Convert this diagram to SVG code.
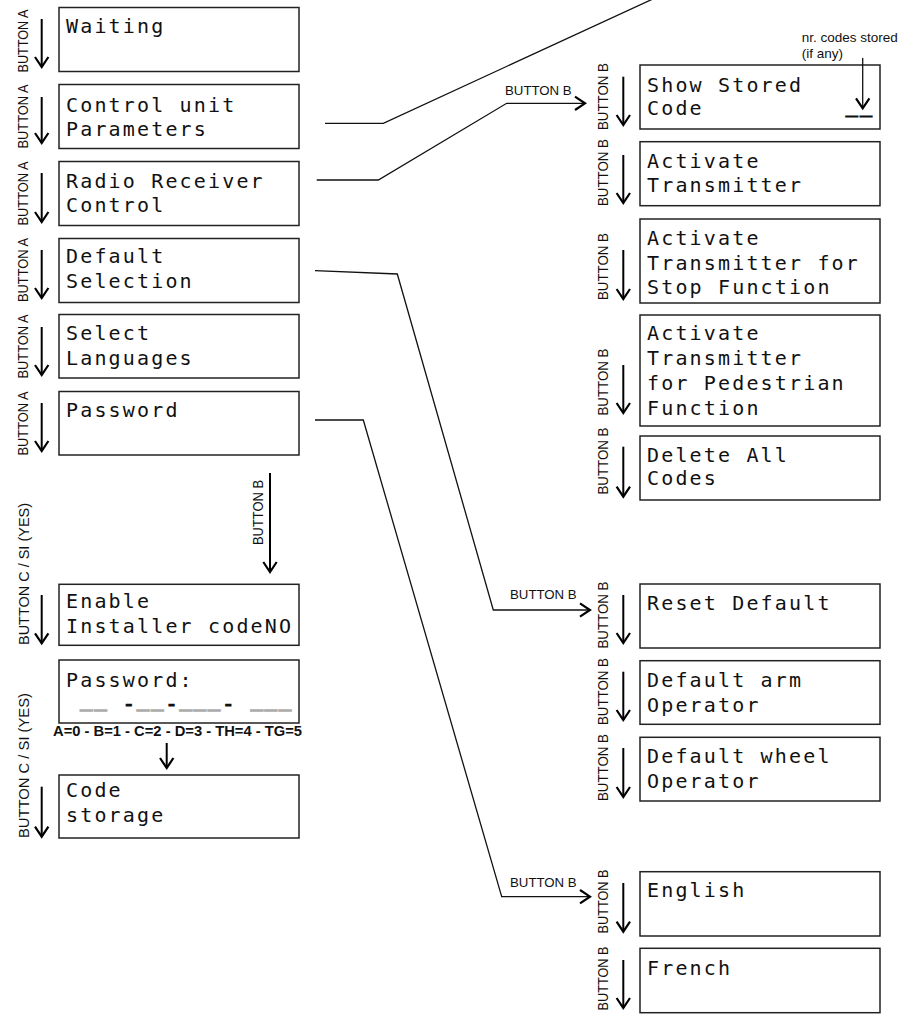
<svg xmlns="http://www.w3.org/2000/svg" width="903" height="1014" viewBox="0 0 903 1014">
<style>
.box{fill:#fff;stroke:#222;stroke-width:1.5}
.lcd{font-family:"DejaVu Sans Mono","Liberation Mono",monospace;font-size:20px;letter-spacing:2.16px;fill:#111}
.lbl{font-family:"Liberation Sans",Arial,sans-serif;font-size:15.5px;fill:#111}
.hl{font-family:"Liberation Sans",Arial,sans-serif;font-size:13px;fill:#111}
.arr{stroke:#000;stroke-width:2;fill:none}
.conn{stroke:#111;stroke-width:1.3;fill:none}
.gray{fill:#aaa;stroke:#aaa;stroke-width:1.6}
.blk{fill:#111;stroke:#111;stroke-width:1.2}
</style>
<defs>
<marker id="chev" markerUnits="userSpaceOnUse" viewBox="-14 -10 20 20" markerWidth="20" markerHeight="20" refX="0" refY="0" orient="auto" overflow="visible">
<path d="M-10,-6.7 L0,0 L-10,6.7" fill="none" stroke="#000" stroke-width="2.2"/>
</marker>
</defs>

<g id="connectors">
<path class="conn" d="M325,123.3 H383.3 L655,-2"/>
<path class="conn" d="M316.7,180 H378.3 L506.7,103.3 H585" marker-end="url(#chev)"/>
<path class="conn" d="M315,270.7 L397.3,274 L493.3,610 H590" marker-end="url(#chev)"/>
<path class="conn" d="M315,420 H363.3 L501.7,896.7 H590" marker-end="url(#chev)"/>
<path class="arr" d="M270,473 V572" marker-end="url(#chev)"/>
<path class="arr" d="M166.7,743 V768" marker-end="url(#chev)"/>
<!-- left arrows -->
<path class="arr" d="M41.7,19 V67" marker-end="url(#chev)"/>
<path class="arr" d="M41.7,97 V143" marker-end="url(#chev)"/>
<path class="arr" d="M41.7,173 V222" marker-end="url(#chev)"/>
<path class="arr" d="M41.7,250 V298" marker-end="url(#chev)"/>
<path class="arr" d="M41.7,327 V375" marker-end="url(#chev)"/>
<path class="arr" d="M41.7,403 V451" marker-end="url(#chev)"/>
<path class="arr" d="M41.7,595 V643.3" marker-end="url(#chev)"/>
<path class="arr" d="M41.7,786.7 V836.7" marker-end="url(#chev)"/>
<!-- right arrows -->
<path class="arr" d="M623.3,76.7 V125" marker-end="url(#chev)"/>
<path class="arr" d="M623.3,155 V203" marker-end="url(#chev)"/>
<path class="arr" d="M623.3,250 V299" marker-end="url(#chev)"/>
<path class="arr" d="M623.3,365 V413" marker-end="url(#chev)"/>
<path class="arr" d="M623.3,446.7 V496.7" marker-end="url(#chev)"/>
<path class="arr" d="M623.3,595 V643" marker-end="url(#chev)"/>
<path class="arr" d="M623.3,671.7 V720" marker-end="url(#chev)"/>
<path class="arr" d="M623.3,748 V797" marker-end="url(#chev)"/>
<path class="arr" d="M623.3,883 V931.7" marker-end="url(#chev)"/>
<path class="arr" d="M623.3,960 V1008" marker-end="url(#chev)"/>
<!-- connector labels -->
<text class="hl" x="505" y="95" textLength="66.7" lengthAdjust="spacingAndGlyphs">BUTTON B</text>
<text class="hl" x="510" y="599.3" textLength="66.7" lengthAdjust="spacingAndGlyphs">BUTTON B</text>
<text class="hl" x="510" y="886.7" textLength="66.7" lengthAdjust="spacingAndGlyphs">BUTTON B</text>
<!-- rotated labels left -->
<g class="lbl" text-anchor="middle">
<text textLength="63" lengthAdjust="spacingAndGlyphs" transform="translate(27.5,41) rotate(-90)">BUTTON A</text>
<text textLength="64" lengthAdjust="spacingAndGlyphs" transform="translate(27.5,116.5) rotate(-90)">BUTTON A</text>
<text textLength="64" lengthAdjust="spacingAndGlyphs" transform="translate(27.5,193.5) rotate(-90)">BUTTON A</text>
<text textLength="64" lengthAdjust="spacingAndGlyphs" transform="translate(27.5,270) rotate(-90)">BUTTON A</text>
<text textLength="64" lengthAdjust="spacingAndGlyphs" transform="translate(27.5,346.5) rotate(-90)">BUTTON A</text>
<text textLength="64" lengthAdjust="spacingAndGlyphs" transform="translate(27.5,423.5) rotate(-90)">BUTTON A</text>
<text textLength="65" lengthAdjust="spacingAndGlyphs" transform="translate(262.5,512.5) rotate(-90)">BUTTON B</text>
<text textLength="142" lengthAdjust="spacingAndGlyphs" transform="translate(29,574) rotate(-90)">BUTTON C / SI (YES)</text>
<text textLength="145" lengthAdjust="spacingAndGlyphs" transform="translate(29,765.5) rotate(-90)">BUTTON C / SI (YES)</text>
<!-- rotated labels right -->
<text textLength="67" lengthAdjust="spacingAndGlyphs" transform="translate(607.5,96.5) rotate(-90)">BUTTON B</text>
<text textLength="67" lengthAdjust="spacingAndGlyphs" transform="translate(607.5,172.5) rotate(-90)">BUTTON B</text>
<text textLength="67" lengthAdjust="spacingAndGlyphs" transform="translate(607.5,266.5) rotate(-90)">BUTTON B</text>
<text textLength="67" lengthAdjust="spacingAndGlyphs" transform="translate(607.5,382) rotate(-90)">BUTTON B</text>
<text textLength="67" lengthAdjust="spacingAndGlyphs" transform="translate(607.5,461) rotate(-90)">BUTTON B</text>
<text textLength="67" lengthAdjust="spacingAndGlyphs" transform="translate(607.5,615) rotate(-90)">BUTTON B</text>
<text textLength="67" lengthAdjust="spacingAndGlyphs" transform="translate(607.5,691.5) rotate(-90)">BUTTON B</text>
<text textLength="67" lengthAdjust="spacingAndGlyphs" transform="translate(607.5,767.5) rotate(-90)">BUTTON B</text>
<text textLength="64" lengthAdjust="spacingAndGlyphs" transform="translate(607.5,901.5) rotate(-90)">BUTTON B</text>
<text textLength="64" lengthAdjust="spacingAndGlyphs" transform="translate(607.5,978.5) rotate(-90)">BUTTON B</text>
</g>
<text class="hl" style="font-weight:bold;font-size:14px" x="53" y="736" textLength="249" lengthAdjust="spacingAndGlyphs">A=0 - B=1 - C=2 - D=3 - TH=4 - TG=5</text>
</g>

<g id="waiting"><rect class="box" x="59" y="7.5" width="240" height="64"/><text class="lcd" x="66" y="33.3">Waiting</text></g>
<g id="control-unit"><rect class="box" x="59" y="84.5" width="240" height="64"/><text class="lcd" x="66" y="111.5">Control unit<tspan x="66" y="135.5">Parameters</tspan></text></g>
<g id="radio-receiver"><rect class="box" x="59" y="161.5" width="240" height="64"/><text class="lcd" x="66" y="188.3">Radio Receiver<tspan x="66" y="211.7">Control</tspan></text></g>
<g id="default-selection"><rect class="box" x="59" y="238.5" width="240" height="64"/><text class="lcd" x="66" y="263.3">Default<tspan x="66" y="288.3">Selection</tspan></text></g>
<g id="select-languages"><rect class="box" x="59" y="314.5" width="240" height="63.5"/><text class="lcd" x="66" y="340">Select<tspan x="66" y="365">Languages</tspan></text></g>
<g id="password"><rect class="box" x="59" y="391.5" width="240" height="63.5"/><text class="lcd" x="66" y="416.7">Password</text></g>
<g id="enable-installer"><rect class="box" x="59" y="584.3" width="240" height="61"/><text class="lcd" x="66" y="608">Enable<tspan x="66" y="633">Installer codeNO</tspan></text></g>
<g id="password-entry"><rect class="box" x="59" y="660" width="240" height="63"/>
<text class="lcd" x="66" y="687" xml:space="preserve">Password:<tspan class="gray" x="66" y="706"> __ </tspan><tspan class="blk" dy="5">-</tspan><tspan class="gray" dy="-5">__</tspan><tspan class="blk" dy="5">-</tspan><tspan class="gray" dy="-5">___</tspan><tspan class="blk" dy="5">-</tspan><tspan class="gray" dy="-5"> ___</tspan></text></g>
<g id="code-storage"><rect class="box" x="59" y="775" width="240" height="63"/><text class="lcd" x="66" y="797">Code<tspan x="66" y="821.5">storage</tspan></text></g>

<g id="show-stored-code"><rect class="box" x="640" y="65" width="240" height="64"/><text class="lcd" x="647" y="91.7">Show Stored<tspan x="647" y="115">Code</tspan><tspan class="blk" x="845.8" y="111.5">__</tspan></text></g>
<g id="activate-transmitter"><rect class="box" x="640" y="141.7" width="240" height="64"/><text class="lcd" x="647" y="168.3">Activate<tspan x="647" y="191.7">Transmitter</tspan></text></g>
<g id="activate-stop"><rect class="box" x="640" y="219" width="240" height="84"/><text class="lcd" x="647" y="245">Activate<tspan x="647" y="270">Transmitter for</tspan><tspan x="647" y="293.5">Stop Function</tspan></text></g>
<g id="activate-pedestrian"><rect class="box" x="640" y="315" width="240" height="111"/><text class="lcd" x="647" y="340">Activate<tspan x="647" y="365">Transmitter</tspan><tspan x="647" y="390">for Pedestrian</tspan><tspan x="647" y="415">Function</tspan></text></g>
<g id="delete-all"><rect class="box" x="640" y="436" width="240" height="64"/><text class="lcd" x="647" y="461.7">Delete All<tspan x="647" y="485">Codes</tspan></text></g>
<g id="reset-default"><rect class="box" x="640" y="584" width="240" height="64"/><text class="lcd" x="647" y="610">Reset Default</text></g>
<g id="default-arm"><rect class="box" x="640" y="660.7" width="240" height="63.6"/><text class="lcd" x="647" y="686.7">Default arm<tspan x="647" y="711.7">Operator</tspan></text></g>
<g id="default-wheel"><rect class="box" x="640" y="737.3" width="240" height="63.7"/><text class="lcd" x="647" y="763.3">Default wheel<tspan x="647" y="788.3">Operator</tspan></text></g>
<g id="english"><rect class="box" x="640" y="871.7" width="240" height="64.3"/><text class="lcd" x="647" y="896.7">English</text></g>
<g id="french"><rect class="box" x="640" y="948.3" width="240" height="64.4"/><text class="lcd" x="647" y="975">French</text></g>

<g id="annotation">
<text class="hl" style="font-size:13.5px" x="801.7" y="42">nr. codes stored</text>
<text class="hl" style="font-size:13.5px" x="801.7" y="58">(if any)</text>
<path class="conn" d="M862.7,58 V108.3" marker-end="url(#chev)"/>
</g>
</svg>
